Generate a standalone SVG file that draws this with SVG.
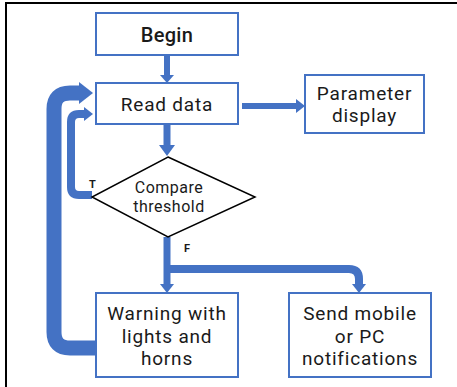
<svg xmlns="http://www.w3.org/2000/svg" width="457" height="387" viewBox="0 0 457 387">
<style>
.box{fill:#fff;stroke:#4472C4;stroke-width:2}
.dia{fill:#fff;stroke:#000;stroke-width:1.5}
.t{font-family:Roboto,"Liberation Sans",sans-serif;fill:#1a1a1a;text-anchor:middle;font-size:19px;letter-spacing:0.8px}
.s{font-size:16px;letter-spacing:0.5px}
.l{fill:none;stroke:#4472C4}
.h{fill:#4472C4}
.lbl{font-family:Roboto,"Liberation Sans",sans-serif;font-weight:bold;font-size:11px;fill:#1a1a1a}
</style>
<rect width="457" height="387" fill="#fff"/>
<path d="M6,387 V3 H457" fill="none" stroke="#000" stroke-width="2"/>
<g id="connectors">
<path class="l" stroke-width="15" d="M96,348 H70 Q54,348 54,332 V109 Q54,93 70,93 H80"/>
<polygon class="h" points="79,82 93,93 79,104"/>
<path class="l" stroke-width="8" d="M92,195 H79 Q71,195 71,187 V122 Q71,114 79,114 H85"/>
<polygon class="h" points="84,107 93,114 84,121"/>
<path class="l" stroke-width="6" d="M167,55 V76"/>
<polygon class="h" points="160,75 174,75 167,83"/>
<path class="l" stroke-width="7" d="M167,124 V146"/>
<polygon class="h" points="159,145 175,145 167,156"/>
<path class="l" stroke-width="6" d="M242,106 H297"/>
<polygon class="h" points="296,99 305,106 296,113"/>
<path class="l" stroke-width="7" d="M167,237 V285"/>
<polygon class="h" points="160,284 174,284 167,293"/>
<path class="l" stroke-width="8" d="M167,269 H349 Q359,269 359,279 V285"/>
<polygon class="h" points="352,284 366,284 359,293"/>
</g>
<g id="begin">
<rect class="box" x="96" y="13" width="142" height="42"/>
<text class="t" x="167" y="42" font-size="20" font-weight="500" style="font-size:20px;letter-spacing:0.3px">Begin</text>
</g>
<g id="read">
<rect class="box" x="96" y="83" width="142" height="41"/>
<text class="t" x="167" y="111">Read data</text>
</g>
<g id="param">
<rect class="box" x="305" y="75" width="119" height="58"/>
<text class="t" x="364.500" y="100">Parameter</text>
<text class="t" x="364.500" y="122">display</text>
</g>
<g id="compare">
<polygon class="dia" points="168,157 255,197 168,237 92,197"/>
<text class="t s" x="169" y="193">Compare</text>
<text class="t s" x="169" y="212">threshold</text>
<text class="lbl" x="89" y="188">T</text>
<text class="lbl" x="184" y="252">F</text>
</g>
<g id="warning">
<rect class="box" x="96" y="293" width="142" height="84"/>
<text class="t" x="167" y="320">Warning with</text>
<text class="t" x="167" y="342.500">lights and</text>
<text class="t" x="167" y="365">horns</text>
</g>
<g id="send">
<rect class="box" x="289" y="293" width="142" height="84"/>
<text class="t" x="360" y="320">Send mobile</text>
<text class="t" x="360" y="342.500">or PC</text>
<text class="t" x="360" y="365">notifications</text>
</g>
</svg>
